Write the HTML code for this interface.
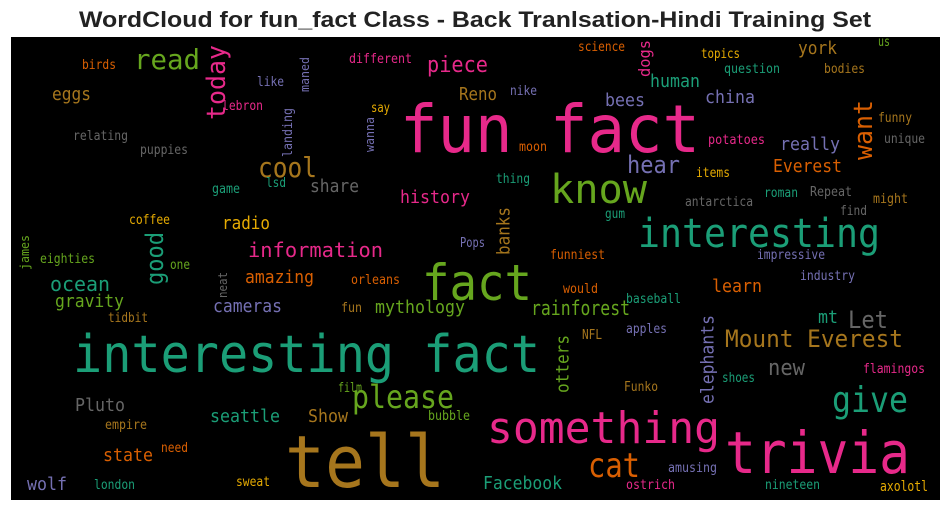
<!DOCTYPE html>
<html><head><meta charset="utf-8">
<style>
html,body{margin:0;padding:0;background:#fff;}
svg{display:block;}
</style></head>
<body>
<svg id="chart" width="950" height="511" viewBox="0 0 950 511" xmlns="http://www.w3.org/2000/svg">
<text x="475" y="27" text-anchor="middle" font-family="Liberation Sans, sans-serif" font-weight="bold" font-size="22" fill="#222" textLength="792" lengthAdjust="spacingAndGlyphs">WordCloud for fun_fact Class - Back Tranlsation-Hindi Training Set</text>
<rect x="11" y="37" width="929" height="463" fill="#000"/>
<g id="words"></g>
</svg>
<script>
// word data (words, colors, font sizes)
const words = ["fun fact","interesting fact","tell","trivia","something","interesting","fact","know","cat","give","Mount Everest","Let","mt","new","please","wolf","Facebook","ostrich","nineteen","axolotl","amusing","flamingos","shoes","elephants","otters","Funko","apples","NFL","rainforest","baseball","would","learn","industry","film","bubble","Show","seattle","Pluto","empire","state","need","london","sweat","ocean","gravity","tidbit","amazing","cameras","orleans","fun","mythology","neat","good","one","eighties","james","coffee","radio","information","Pops","banks","funniest","impressive","gum","antarctica","roman","Repeat","might","find","thing","items","hear","Everest","really","want","funny","unique","potatoes","moon","china","bees","nike","Reno","human","question","bodies","topics","york","us","science","dogs","piece","different","read","today","birds","eggs","like","maned","lebron","say","landing","wanna","relating","puppies","cool","share","lsd","game","history"];
const colors = ["pk","te","br","pk","pk","te","gr","gr","or","te","br","gy","te","gy","gr","pu","te","pk","te","go","pu","pk","te","pu","gr","br","pu","br","gr","te","or","or","pu","gr","gr","br","te","gy","br","or","or","te","go","te","gr","br","or","pu","or","br","gr","gy","te","gr","gr","gr","go","go","pk","pu","br","or","pu","te","gy","te","gy","br","gy","te","go","pu","or","pu","or","br","gy","pk","or","pu","pu","pu","br","te","te","br","go","br","gr","or","pk","pk","pk","gr","pk","or","br","pu","pu","pk","go","pu","pu","gy","gy","br","gy","te","te","pk"];
const sizes = [66,52,72,58,44,40,50,40,34,36,24,24,18,22,32,18,18,13,13,14,13,13,13,18,18,13,13,13,20,13,13,18,13,13,13,18,18,18,13,18,13,13,13,20,18,13,18,18,13,13,18,12,24,13,13,12,13,18,20,13,18,13,13,13,13,13,13,13,13,13,13,24,18,18,26,13,13,13,13,18,18,13,18,18,13,13,13,18,13,13,16,22,13,28,26,13,18,13,12,13,13,13,12,13,13,28,18,13,13,18];
const vertical = ["elephants","otters","neat","good","james","banks","want","dogs","today","maned","landing","wanna"];
// layout: [x, y, length]  (horizontal: left, baseline, width; vertical: left, bottom, height)
const layout = [[400,152,300],[73,372,467],[285,487,160],[725,473,185],[487,443,233],[638,247,242],[422,300,110],[550,203,97],[588,477,52],[832,412,76],[725,347,178],[848,328,40],[818,323,20],[768,375,37],[352,408,102],[27,490,40],[483,489,79],[626,489,49],[765,489,55],[880,491,48],[668,472,49],[863,373,62],[722,382,33],[700,404,89],[555,393,58],[624,391,34],[626,333,41],[582,339,20],[531,315,99],[626,303,55],[563,293,35],[712,292,50],[800,280,55],[338,392,24],[428,420,42],[308,422,40],[210,422,70],[75,411,50],[105,429,42],[103,461,50],[161,452,27],[94,489,41],[236,486,34],[50,291,60],[55,307,69],[108,322,40],[245,283,69],[213,312,69],[351,284,49],[341,312,21],[375,313,90],[218,298,26],[145,285,53],[170,269,20],[40,263,55],[20,270,35],[129,224,41],[222,229,48],[248,257,135],[460,247,25],[496,255,48],[550,259,55],[757,259,68],[605,218,20],[685,206,68],[764,197,34],[810,196,42],[873,203,35],[840,215,27],[496,183,34],[696,177,34],[627,173,53],[773,172,69],[780,150,60],[852,160,60],[878,122,34],[884,143,41],[708,144,57],[519,151,28],[705,103,50],[605,106,40],[510,95,27],[459,100,38],[650,87,50],[724,73,56],[824,73,41],[701,58,39],[798,54,39],[878,46,12],[578,51,47],[638,77,37],[427,72,61],[349,63,63],[134,69,66],[205,120,75],[82,69,34],[52,100,39],[257,86,27],[300,92,35],[222,110,41],[371,112,19],[282,157,49],[365,152,35],[73,140,55],[140,154,48],[258,177,59],[310,192,49],[266,187,20],[212,193,28],[400,203,70]];
const palette = {te:"#1b9e77",or:"#d95f02",pu:"#7570b3",pk:"#e7298a",gr:"#66a61e",go:"#e6ab02",br:"#a6761d",gy:"#666666"};
const NS = "http://www.w3.org/2000/svg";
const g = document.getElementById("words");
words.forEach((w, i) => {
  const [x, y, len] = layout[i];
  const s = sizes[i];
  const t = document.createElementNS(NS, "text");
  t.textContent = w;
  t.setAttribute("font-family", "DejaVu Sans Mono, Liberation Mono, monospace");
  t.setAttribute("font-size", s);
  t.setAttribute("fill", palette[colors[i]]);
  t.setAttribute("textLength", len);
  t.setAttribute("lengthAdjust", "spacingAndGlyphs");
  if (vertical.includes(w)) {
    t.setAttribute("x", 0);
    t.setAttribute("y", 0);
    t.setAttribute("transform", "translate(" + (x + s * 0.76) + "," + y + ") rotate(-90)");
  } else {
    t.setAttribute("x", x);
    t.setAttribute("y", y);
  }
  
  
  g.appendChild(t);
});
</script>
</body></html>
